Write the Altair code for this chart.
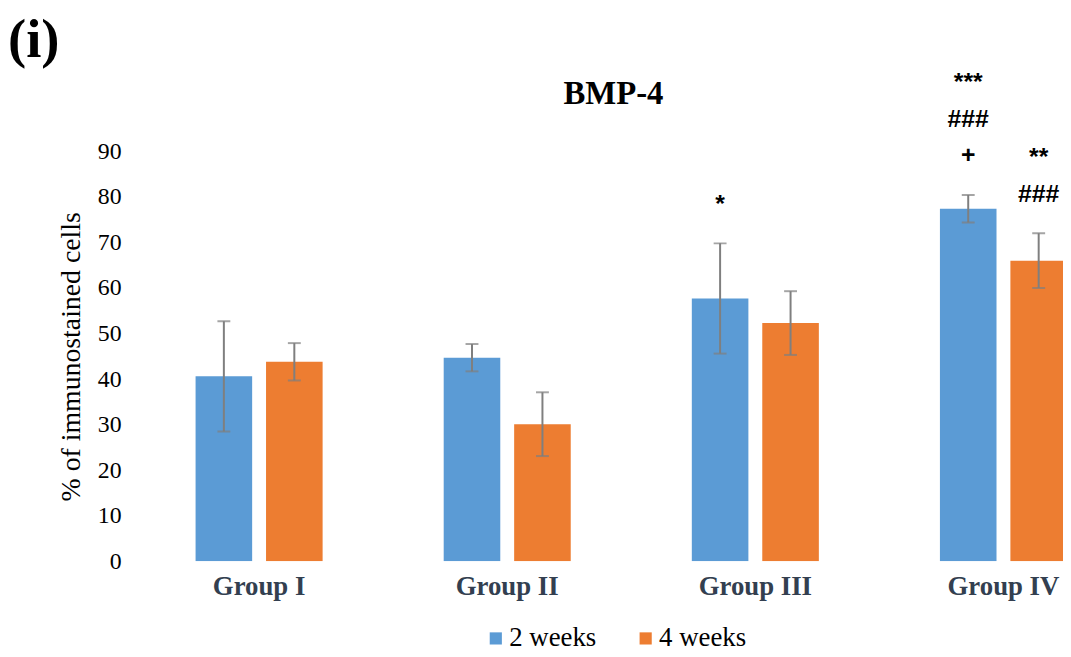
import altair as alt
import pandas as pd

groups = ["Group I", "Group II", "Group III", "Group IV"]
series = ["2 weeks", "4 weeks"]
means_2w = [40.6, 44.7, 57.7, 77.4]
means_4w = [43.8, 30.1, 52.3, 66.0]
sd_2w = [12.1, 3.0, 12.1, 3.0]
sd_4w = [4.1, 7.0, 7.0, 6.0]
# significance marks, listed top line first
notes_2w = [[], [], ["*"], ["***", "###", "+"]]
notes_4w = [[], [], [], ["**", "###"]]
colors = ["#5B9BD5", "#ED7D31"]

rows, note_rows = [], []
for s, means, sds, notes in [(series[0], means_2w, sd_2w, notes_2w),
                             (series[1], means_4w, sd_4w, notes_4w)]:
    for g, m, sd, n in zip(groups, means, sds, notes):
        rows.append({"group": g, "series": s, "mean": m, "lo": m - sd, "hi": m + sd})
        for k, line in enumerate(reversed(n)):
            note_rows.append({"group": g, "series": s, "hi": m + sd, "level": k, "note": line})
df = pd.DataFrame(rows)
df_notes = pd.DataFrame(note_rows)

SERIF = "Liberation Serif"
SANS = "Liberation Sans"

x = alt.X("group:N", sort=groups,
          scale=alt.Scale(domain=groups, range=[0, 1000], paddingInner=0.488, paddingOuter=0.244),
          axis=alt.Axis(title=None, labelAngle=0, domain=False, ticks=False,
                        labelFont=SERIF, labelFontWeight="bold", labelFontSize=27,
                        labelColor="#333F50", labelPadding=12))
xo = alt.XOffset("series:N", sort=series, scale=alt.Scale(domain=series, paddingInner=0.197, paddingOuter=0))
yscale = alt.Scale(domain=[0, 90], nice=False)

base = alt.Chart(df)

bars = base.mark_bar(clip=True).encode(
    x=x, xOffset=xo,
    y=alt.Y("mean:Q", scale=yscale,
            axis=alt.Axis(values=list(range(0, 91, 10)), grid=False, domain=False, ticks=False,
                          title="% of immunostained cells", titleFont=SERIF, titleFontSize=28,
                          titleFontWeight="normal", titleColor="black", titlePadding=12,
                          labelFont=SERIF, labelFontSize=24, labelColor="black", labelPadding=14)),
    color=alt.Color("series:N", sort=series,
                    scale=alt.Scale(domain=series, range=colors),
                    legend=alt.Legend(title=None, orient="none", direction="horizontal",
                                      legendX=350, legendY=477, symbolType="square", symbolSize=150,
                                      symbolStrokeWidth=0, labelFont=SERIF, labelFontSize=27,
                                      labelColor="black", labelOffset=0, columnPadding=36, padding=0)),
)

err = base.mark_rule(color="#7F7F7F", strokeWidth=2, clip=True).encode(
    x=x, xOffset=xo, y=alt.Y("lo:Q", scale=yscale), y2="hi:Q")
cap_hi = base.mark_tick(color="#7F7F7F", thickness=2, size=13, orient="horizontal", clip=True).encode(
    x=x, xOffset=xo, y=alt.Y("hi:Q", scale=yscale))
cap_lo = base.mark_tick(color="#7F7F7F", thickness=2, size=13, orient="horizontal", clip=True).encode(
    x=x, xOffset=xo, y=alt.Y("lo:Q", scale=yscale))

note_layers = []
for k in range(3):
    note_layers.append(
        alt.Chart(df_notes).transform_filter(f"datum.level == {k}").mark_text(
            baseline="middle", dy=-40 - 37 * k, font=SANS, fontWeight="bold",
            fontSize=25, color="black").encode(
            x=x, xOffset=xo, y=alt.Y("hi:Q", scale=yscale), text="note:N")
    )

labels = pd.DataFrame({"t": ["(i)"]})
panel = alt.Chart(labels).mark_text(
    font=SERIF, fontWeight="bold", fontSize=55, align="left", baseline="middle", color="black"
).encode(text="t:N", x=alt.value(-128), y=alt.value(-112))

heading = alt.Chart(pd.DataFrame({"t": ["BMP-4"]})).mark_text(
    font=SERIF, fontWeight="bold", fontSize=33, align="center", baseline="middle", color="black"
).encode(text="t:N", x=alt.value(482), y=alt.value(-58))

chart = alt.layer(bars, err, cap_hi, cap_lo, *note_layers, panel, heading).properties(
    width=935, height=413,
    autosize=alt.AutoSizeParams(type="none"),
    padding={"left": 128, "top": 142, "right": 0, "bottom": 94},
).configure_view(stroke=None)

chart.save("out.html", embed_options={"renderer": "svg", "actions": False})
